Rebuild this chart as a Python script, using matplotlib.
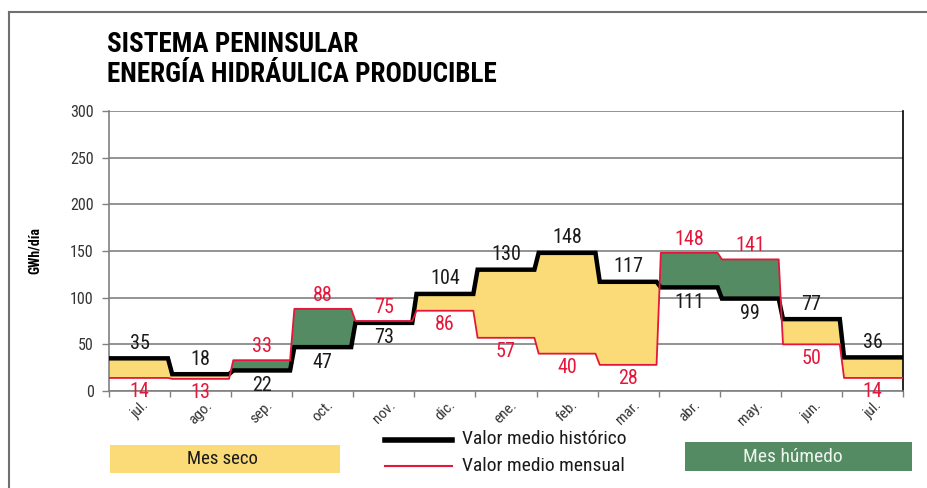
import matplotlib
matplotlib.use("Agg")
import matplotlib.pyplot as plt
from matplotlib import font_manager
from matplotlib.lines import Line2D
from matplotlib.patches import Rectangle
import numpy as np

# data
months = ["jul.", "ago.", "sep.", "oct.", "nov.", "dic.", "ene.", "feb.", "mar.",
          "abr.", "may.", "jun.", "jul."]
historico = [35, 18, 22, 47, 73, 104, 130, 148, 117, 111, 99, 77, 36]
mensual = [14, 13, 33, 88, 75, 86, 57, 40, 28, 148, 141, 50, 14]

YELLOW = "#FADB78"
GREEN = "#548B63"
RED = "#E4173A"
GRID = "#808080"


def pick_font():
    for name in ["Liberation Sans Narrow", "Roboto Condensed", "DejaVu Sans"]:
        try:
            font_manager.findfont(name, fallback_to_default=False)
            return name
        except Exception:
            continue
    return "DejaVu Sans"


FONT = pick_font()
plt.rcParams["font.family"] = [FONT, "DejaVu Sans"]

fig = plt.figure(figsize=(9.27, 4.88), dpi=100)
ax = fig.add_axes([109 / 927, 1 - 391 / 488, 794 / 927, 280 / 488])

# step outlines with short slanted transitions
d = 0.035
n = len(months)
xs, yh, ym = [], [], []
for i in range(n):
    x0 = i + (d if i > 0 else 0)
    x1 = i + 1 - (d if i < n - 1 else 0)
    xs += [x0, x1]
    yh += [historico[i], historico[i]]
    ym += [mensual[i], mensual[i]]
xs, yh, ym = np.array(xs), np.array(yh), np.array(ym)

ax.fill_between(xs, yh, ym, where=yh >= ym, interpolate=True, color=YELLOW, lw=0, zorder=2)
ax.fill_between(xs, yh, ym, where=ym >= yh, interpolate=True, color=GREEN, lw=0, zorder=2)
ax.plot(xs, yh, color="black", lw=3.2, solid_joinstyle="miter", zorder=4)
ax.plot(xs, ym, color=RED, lw=1.3, zorder=5)

# value labels: higher above, lower below
LBL = 14.5
for i in range(n):
    h, m = historico[i], mensual[i]
    cx = i + 0.5
    if h >= m:
        ax.annotate(str(h), (cx, h), xytext=(0, 4), textcoords="offset points",
                    ha="center", va="bottom", fontsize=LBL, color="#1a1a1a", zorder=6)
        ax.annotate(str(m), (cx, m), xytext=(0, -3), textcoords="offset points",
                    ha="center", va="top", fontsize=LBL, color=RED, zorder=6,
                    annotation_clip=False)
    else:
        ax.annotate(str(m), (cx, m), xytext=(0, 3), textcoords="offset points",
                    ha="center", va="bottom", fontsize=LBL, color=RED, zorder=6)
        ax.annotate(str(h), (cx, h), xytext=(0, -4), textcoords="offset points",
                    ha="center", va="top", fontsize=LBL, color="#1a1a1a", zorder=6)

ax.set_xlim(0, n)
ax.set_ylim(0, 300)
ax.set_yticks(range(0, 301, 50))
ax.yaxis.grid(True, color=GRID, lw=1.2, zorder=1)
ax.set_axisbelow(True)
ax.tick_params(axis="y", length=5, width=1, color=GRID, labelsize=11.5, labelcolor="#333333", pad=6)

ax.set_xticks(range(n + 1))
ax.set_xticklabels([])
ax.set_xticks(np.arange(n) + 0.5, minor=True)
ax.set_xticklabels(months, minor=True, rotation=45, ha="center", va="top", fontsize=11,
                   color="#333333")
ax.tick_params(axis="x", which="major", length=4, width=1, color=GRID)
ax.tick_params(axis="x", which="minor", length=0, pad=5)

ax.spines["top"].set_visible(False)
ax.spines["left"].set_color(GRID)
ax.spines["left"].set_linewidth(1.2)
ax.spines["bottom"].set_color(GRID)
ax.spines["bottom"].set_linewidth(1.2)
ax.spines["right"].set_color("black")
ax.spines["right"].set_linewidth(1.2)

ax.set_ylabel("GWh/día", fontsize=10, fontweight="bold", labelpad=20)

# title
fig.text(107 / 927, 1 - 52 / 488, "SISTEMA PENINSULAR", fontsize=19.5, fontweight="bold",
         va="baseline", ha="left")
fig.text(107 / 927, 1 - 82 / 488, "ENERGÍA HIDRÁULICA PRODUCIBLE", fontsize=19.5,
         fontweight="bold", va="baseline", ha="left")

# page frame
fig.add_artist(Line2D([9 / 927, 1], [1 - 12 / 488, 1 - 12 / 488], color="#707070", lw=1.5))
fig.add_artist(Line2D([9 / 927, 9 / 927], [0, 1 - 12 / 488], color="#707070", lw=1.5))

# legend
fig.add_artist(Rectangle((110 / 927, 1 - 473 / 488), 230 / 927, 28 / 488, color=YELLOW, lw=0))
fig.text(222 / 927, 1 - 459 / 488, "Mes seco", fontsize=13.5, ha="center", va="center",
         color="#1a1a1a")
fig.add_artist(Rectangle((685 / 927, 1 - 471 / 488), 227 / 927, 29 / 488, color=GREEN, lw=0))
fig.text(793 / 927, 1 - 457 / 488, "Mes húmedo", fontsize=14, ha="center", va="center",
         color="#eef4ee")
fig.add_artist(Line2D([385 / 927, 452 / 927], [1 - 440 / 488, 1 - 440 / 488], color="black", lw=4))
fig.add_artist(Line2D([385 / 927, 452 / 927], [1 - 466 / 488, 1 - 466 / 488], color=RED, lw=1.5))
fig.text(462 / 927, 1 - 439 / 488, "Valor medio histórico", fontsize=14, ha="left",
         va="center", color="#1a1a1a")
fig.text(462 / 927, 1 - 466 / 488, "Valor medio mensual", fontsize=14, ha="left",
         va="center", color="#1a1a1a")

fig.savefig("out.png", dpi=100)
